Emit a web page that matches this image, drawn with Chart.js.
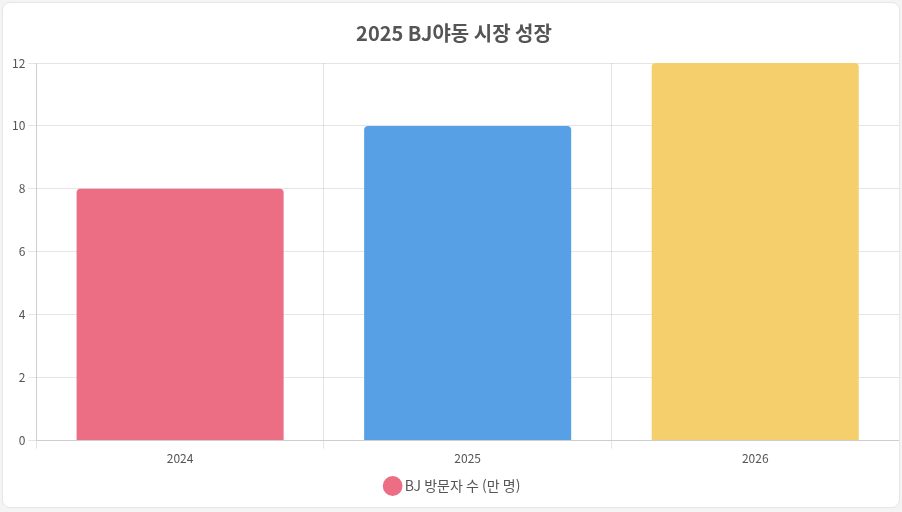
<!DOCTYPE html>
<html lang="ko">
<head>
<meta charset="utf-8">
<script src="https://cdn.jsdelivr.net/npm/chart.js"></script>
<style>
  body { margin: 0; background: #f4f4f4; font-family: "Noto Sans CJK KR", "Noto Sans", sans-serif; }
  .card { position: absolute; left: 2px; top: 2px; width: 896px; height: 504px; background: #fff; border-radius: 8px; border: 1px solid #e6e6e6; }
  #wrap { position: absolute; left: 6px; top: 14px; width: 890px; height: 486px; }
</style>
</head>
<body>
<div class="card"><div id="wrap"><canvas id="grafico"></canvas></div></div>
<script>
const anios = ["2024", "2025", "2026"];
const visitantes = [8, 10, 12];
const colores = ["rgba(235,110,132,1)", "rgba(87,160,229,1)", "rgba(246,207,109,1)"];

Chart.defaults.font.family = '"Noto Sans CJK KR", "Noto Sans", sans-serif';
Chart.defaults.color = "#555";

new Chart(document.getElementById("grafico").getContext("2d"), {
  type: "bar",
  data: {
    labels: anios,
    datasets: [{
      label: "BJ 방문자 수 (만 명)",
      data: visitantes,
      backgroundColor: colores,
      borderRadius: 4,
      categoryPercentage: 0.8,
      barPercentage: 0.9
    }]
  },
  options: {
    responsive: true,
    maintainAspectRatio: false,
    animation: false,
    plugins: {
      title: { display: true, text: "2025 BJ야동 시장 성장", font: { size: 20, weight: "bold" }, color: "#555", padding: { top: 4, bottom: 18 } },
      legend: { position: "bottom", labels: { usePointStyle: true, pointStyle: "circle", boxWidth: 10, font: { size: 14 } } }
    },
    scales: {
      y: { beginAtZero: true, max: 12, ticks: { stepSize: 2 } },
      x: {}
    }
  }
});
</script>
</body>
</html>
